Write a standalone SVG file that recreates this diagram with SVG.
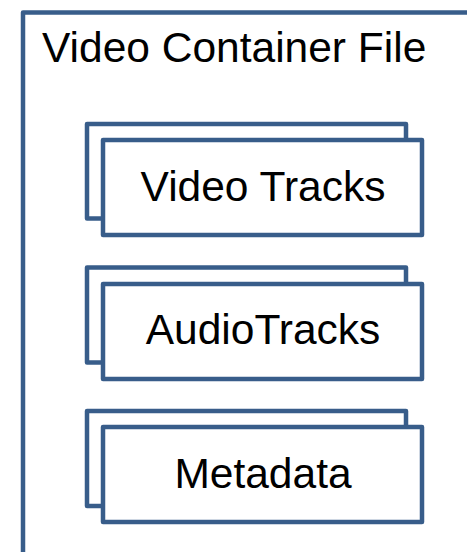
<svg xmlns="http://www.w3.org/2000/svg" width="467" height="552" viewBox="0 0 467 552">
<style>
.box{fill:#fff;stroke:#385D8A;stroke-width:4.5;stroke-linejoin:round}
.t{font-family:"Liberation Sans",Arial,sans-serif;font-size:42.5px;fill:#000}
.c{text-anchor:middle}
</style>
<rect width="467" height="552" fill="#fff"/>
<g id="container">
<rect class="box" x="23" y="12.5" width="520" height="620"/>
<text class="t" x="42" y="62">Video Container File</text>
</g>
<g id="connectors"></g>
<g id="video-tracks">
<rect class="box" x="87" y="124" width="319" height="94.5"/>
<rect class="box" x="103" y="140" width="319" height="95"/>
<text class="t c" x="263" y="201">Video Tracks</text>
</g>
<g id="audio-tracks">
<rect class="box" x="87" y="267.5" width="319" height="95"/>
<rect class="box" x="103" y="284" width="319" height="95"/>
<text class="t c" x="263" y="344">AudioTracks</text>
</g>
<g id="metadata">
<rect class="box" x="87" y="411" width="319" height="95"/>
<rect class="box" x="103" y="427" width="319" height="95"/>
<text class="t c" x="263" y="488">Metadata</text>
</g>
</svg>
